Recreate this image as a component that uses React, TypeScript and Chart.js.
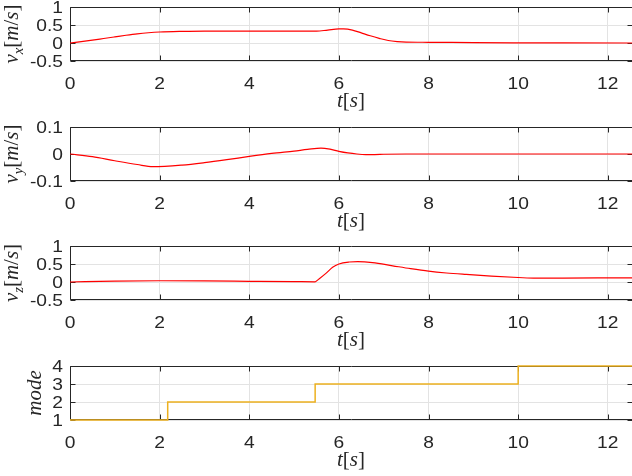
import React, { useEffect, useRef } from "react";
import { Chart, registerables } from "chart.js";

Chart.register(...registerables);

// ---------- data ----------
const T_MAX = 12.54;
const xTicks = [0, 2, 4, 6, 8, 10, 12];

const vxTime = [0, 0.25, 0.5, 0.75, 1, 1.25, 1.5, 1.75, 2, 2.5, 3, 4, 5, 5.5, 5.75, 6, 6.1, 6.3, 6.5, 6.7, 6.9, 7.1, 7.3, 7.5, 8, 9, 10, 11, 12.54];
const vxValues = [0, 0.04, 0.08, 0.125, 0.17, 0.215, 0.255, 0.285, 0.305, 0.322, 0.33, 0.33, 0.33, 0.33, 0.36, 0.39, 0.39, 0.36, 0.28, 0.2, 0.13, 0.07, 0.04, 0.025, 0.02, 0.01, 0.005, 0.002, 0];

const vyTime = [0, 0.5, 1, 1.5, 1.85, 2.5, 3, 3.5, 4, 4.5, 5, 5.3, 5.6, 5.8, 6, 6.2, 6.4, 6.6, 6.8, 7, 7.5, 8, 10, 12.54];
const vyValues = [0, -0.01, -0.025, -0.039, -0.047, -0.041, -0.032, -0.021, -0.009, 0.002, 0.011, 0.017, 0.022, 0.018, 0.01, 0.004, 0.0, -0.002, -0.002, -0.001, 0, 0, 0, 0];

const vzTime = [0, 1, 2, 3, 4, 5, 5.47, 5.55, 5.71, 5.86, 6, 6.23, 6.42, 6.75, 7.2, 7.6, 8, 8.4, 8.84, 9.4, 10, 10.4, 11, 12, 12.54];
const vzValues = [0, 0.025, 0.035, 0.03, 0.02, 0.01, 0.005, 0.08, 0.24, 0.41, 0.5, 0.555, 0.566, 0.54, 0.45, 0.37, 0.3, 0.25, 0.21, 0.165, 0.125, 0.105, 0.11, 0.113, 0.113];

const modeTime = [0, 2.18, 5.47, 10.0, 12.54];
const modeValues = [1, 2, 3, 4, 4];

const vxTicks = [-0.5, 0, 0.5, 1];
const vyTicks = [-0.1, 0, 0.1];
const vzTicks = [-0.5, 0, 0.5, 1];
const modeTicks = [1, 2, 3, 4];

type Seg = { t: string; italic?: boolean; sub?: boolean };
const vxLabel: Seg[] = [{ t: "v", italic: true }, { t: "x", italic: true, sub: true }, { t: "[" }, { t: "m", italic: true }, { t: "/" }, { t: "s", italic: true }, { t: "]" }];
const vyLabel: Seg[] = [{ t: "v", italic: true }, { t: "y", italic: true, sub: true }, { t: "[" }, { t: "m", italic: true }, { t: "/" }, { t: "s", italic: true }, { t: "]" }];
const vzLabel: Seg[] = [{ t: "v", italic: true }, { t: "z", italic: true, sub: true }, { t: "[" }, { t: "m", italic: true }, { t: "/" }, { t: "s", italic: true }, { t: "]" }];
const modeLabel: Seg[] = [{ t: "mode", italic: true }];
const timeLabel: Seg[] = [{ t: "t", italic: true }, { t: "[" }, { t: "s", italic: true }, { t: "]" }];

// ---------- style ----------
const RED = "#ff0000";
const ORANGE = "#edb120";
const AXIS = "#262626";
const GRID = "#e3e3e3";
const TICK_FONT = '16px "Liberation Sans", Arial, sans-serif';
const TICK_STRETCH = 1.2;
const TICK_CAP = 11.5;
const MATH_FONT = '"Liberation Serif", "Times New Roman", serif';
const MATH_SIZE = 21;
const WIDTH = 632;
const PAD_TOP = 7;
const AREA_H = 54;
const Y_AXIS_W = 70;

type PlotDef = {
  time: number[];
  values: number[];
  color: string;
  ticks: number[];
  label: Seg[];
  stepped?: boolean;
  canvasTop: number;
  canvasH: number;
};

const plots: PlotDef[] = [
  { time: vxTime, values: vxValues, color: RED, ticks: vxTicks, label: vxLabel, canvasTop: 0, canvasH: 120 },
  { time: vyTime, values: vyValues, color: RED, ticks: vyTicks, label: vyLabel, canvasTop: 120, canvasH: 119 },
  { time: vzTime, values: vzValues, color: RED, ticks: vzTicks, label: vzLabel, canvasTop: 239, canvasH: 120 },
  { time: modeTime, values: modeValues, color: ORANGE, ticks: modeTicks, label: modeLabel, stepped: true, canvasTop: 359, canvasH: 117 },
];

function segFont(s: Seg): string {
  const size = s.sub ? MATH_SIZE * 0.7 : MATH_SIZE;
  return `${s.italic ? "italic " : ""}${size}px ${MATH_FONT}`;
}

function drawSegs(ctx: CanvasRenderingContext2D, segs: Seg[]) {
  let total = 0;
  const widths = segs.map((s) => {
    ctx.font = segFont(s);
    const w = ctx.measureText(s.t).width;
    total += w;
    return w;
  });
  let x = -total / 2;
  ctx.textBaseline = "alphabetic";
  ctx.textAlign = "left";
  segs.forEach((s, i) => {
    ctx.font = segFont(s);
    ctx.fillText(s.t, x, s.sub ? MATH_SIZE * 0.22 : 0);
    x += widths[i];
  });
}

function tickText(v: number): string {
  return String(v);
}

function makeDecor(def: PlotDef) {
  return {
    id: "decor",
    beforeDatasetsDraw(chart: any) {
      const { ctx, chartArea: a, scales } = chart;
      const L = 5;
      ctx.save();
      ctx.strokeStyle = AXIS;
      ctx.lineWidth = 1;
      const top = Math.round(a.top) + 0.5;
      const bot = Math.round(a.bottom) - 0.5;
      const left = Math.round(a.left) + 0.5;
      const right = Math.round(a.right) + 0.5;
      ctx.beginPath();
      ctx.moveTo(left, top);
      ctx.lineTo(right, top);
      ctx.moveTo(left, bot);
      ctx.lineTo(right, bot);
      ctx.moveTo(left, top);
      ctx.lineTo(left, bot);
      ctx.moveTo(right, top);
      ctx.lineTo(right, bot);
      for (const t of scales.x.ticks) {
        const px = Math.round(scales.x.getPixelForValue(t.value)) + 0.5;
        ctx.moveTo(px, bot);
        ctx.lineTo(px, bot - L);
        ctx.moveTo(px, top);
        ctx.lineTo(px, top + L);
      }
      for (const t of scales.y.ticks) {
        const py = Math.round(scales.y.getPixelForValue(t.value)) + 0.5;
        ctx.moveTo(left, py);
        ctx.lineTo(left + L, py);
        ctx.moveTo(right, py);
        ctx.lineTo(right - L, py);
      }
      ctx.stroke();
      ctx.restore();
    },
    afterDraw(chart: any) {
      const { ctx, chartArea: a, scales } = chart;
      ctx.save();
      ctx.fillStyle = AXIS;
      ctx.font = TICK_FONT;
      ctx.textBaseline = "alphabetic";
      // x tick labels (horizontally stretched like the reference)
      for (const t of scales.x.ticks) {
        const px = scales.x.getPixelForValue(t.value);
        ctx.save();
        ctx.translate(px, a.bottom + 16 + TICK_CAP);
        ctx.scale(TICK_STRETCH, 1);
        ctx.textAlign = "center";
        ctx.fillText(tickText(t.value), 0, 0);
        ctx.restore();
      }
      // y tick labels
      let maxW = 0;
      for (const t of scales.y.ticks) {
        const py = scales.y.getPixelForValue(t.value);
        const s = tickText(t.value);
        maxW = Math.max(maxW, ctx.measureText(s).width * TICK_STRETCH);
        ctx.save();
        ctx.translate(a.left - 7, py + TICK_CAP / 2);
        ctx.scale(TICK_STRETCH, 1);
        ctx.textAlign = "right";
        ctx.fillText(s, 0, 0);
        ctx.restore();
      }
      // x title
      ctx.save();
      ctx.translate((a.left + a.right) / 2, a.bottom + 46);
      drawSegs(ctx, timeLabel);
      ctx.restore();
      // y title
      const tickLeft = a.left - 7 - maxW;
      const hasDesc = def.label.some((s) => s.t === "[" || s.sub);
      const baseX = tickLeft - (hasDesc ? 11.5 : 11.5);
      ctx.translate(baseX, (a.top + a.bottom) / 2);
      ctx.rotate(-Math.PI / 2);
      drawSegs(ctx, def.label);
      ctx.restore();
    },
  };
}

function buildConfig(def: PlotDef): any {
  const data = def.time.map((t, i) => ({ x: t, y: def.values[i] }));
  const yMin = def.ticks[0];
  const yMax = def.ticks[def.ticks.length - 1];
  return {
    type: "line",
    data: {
      datasets: [
        {
          data,
          borderColor: def.color,
          borderWidth: def.stepped ? 1.5 : 1.2,
          pointRadius: 0,
          fill: false,
          clip: 3,
          stepped: def.stepped ? true : false,
          cubicInterpolationMode: def.stepped ? "default" : "monotone",
        },
      ],
    },
    options: {
      responsive: false,
      animation: false,
      events: [],
      layout: { padding: { top: PAD_TOP, left: 0, right: 0, bottom: 0 } },
      plugins: { legend: { display: false }, tooltip: { enabled: false }, title: { display: false } },
      scales: {
        x: {
          type: "linear",
          min: 0,
          max: T_MAX,
          afterBuildTicks: (s: any) => {
            s.ticks = xTicks.map((v) => ({ value: v }));
          },
          ticks: { display: false, autoSkip: false },
          grid: { color: GRID, drawTicks: false, lineWidth: 1 },
          border: { display: false },
          afterFit: (s: any) => {
            s.height = def.canvasH - PAD_TOP - AREA_H;
            s.paddingLeft = 0;
            s.paddingRight = 0;
          },
        },
        y: {
          type: "linear",
          min: yMin,
          max: yMax,
          afterBuildTicks: (s: any) => {
            s.ticks = def.ticks.map((v) => ({ value: v }));
          },
          ticks: { display: false, autoSkip: false },
          grid: { color: GRID, drawTicks: false, lineWidth: 1 },
          border: { display: false },
          afterFit: (s: any) => {
            s.width = Y_AXIS_W;
            s.paddingTop = 0;
            s.paddingBottom = 0;
          },
        },
      },
    },
    plugins: [makeDecor(def)],
  };
}

function Subplot({ def }: { def: PlotDef }) {
  const ref = useRef<HTMLCanvasElement>(null);
  useEffect(() => {
    const chart = new Chart(ref.current as HTMLCanvasElement, buildConfig(def));
    return () => chart.destroy();
  }, [def]);
  return (
    <canvas
      ref={ref}
      width={WIDTH}
      height={def.canvasH}
      style={{ position: "absolute", left: 0, top: def.canvasTop, width: WIDTH, height: def.canvasH, display: "block" }}
    />
  );
}

export default function App() {
  return (
    <div style={{ position: "fixed", left: 0, top: 0, width: 632, height: 476, background: "#ffffff", overflow: "hidden" }}>
      {plots.map((p, i) => (
        <Subplot key={i} def={p} />
      ))}
    </div>
  );
}
